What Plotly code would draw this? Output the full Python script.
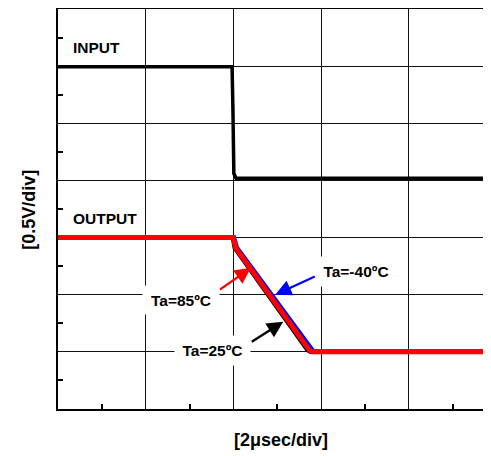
import plotly.graph_objects as go

# ---- data (divisions: x = 2 usec/div, y = 0.5 V/div) ----
input_t = [0.0, 1.985, 1.995, 2.005, 2.03, 4.94]
input_v = [5.99, 5.99, 5.2, 4.12, 4.04, 4.04]

out25_t = [0.0, 1.995, 2.015, 2.82, 2.845, 2.88, 4.94]
out25_v = [3.0, 3.0, 2.82, 1.07, 1.03, 1.0, 1.0]

outm40_t = [0.0, 2.005, 2.04, 2.875, 2.9, 2.935, 4.94]
outm40_v = [3.0, 3.0, 2.82, 1.07, 1.03, 1.0, 1.0]

out85_t = [0.0, 2.0, 2.025, 2.84, 2.865, 2.9, 4.94]
out85_v = [3.0, 3.0, 2.82, 1.07, 1.03, 1.0, 1.0]

FONT = "Liberation Sans, Arial, sans-serif"

fig = go.Figure()
fig.add_trace(go.Scatter(x=input_t, y=input_v, mode="lines",
                         line=dict(color="black", width=3.5), hoverinfo="skip"))
fig.add_trace(go.Scatter(x=out25_t, y=out25_v, mode="lines",
                         line=dict(color="black", width=4.5), hoverinfo="skip"))
fig.add_trace(go.Scatter(x=outm40_t, y=outm40_v, mode="lines",
                         line=dict(color="#0000ff", width=4.5), hoverinfo="skip"))
fig.add_trace(go.Scatter(x=out85_t, y=out85_v, mode="lines",
                         line=dict(color="#ff0000", width=5), hoverinfo="skip"))

tf = dict(family=FONT, size=15.5, color="black")
ann = []
# plain labels
ann.append(dict(x=0.437, y=6.33, xref="x", yref="y", text="<b>INPUT</b>",
                showarrow=False, font=tf))
ann.append(dict(x=0.54, y=3.34, xref="x", yref="y", text="<b>OUTPUT</b>",
                showarrow=False, font=tf))
# arrows
ann.append(dict(x=2.20, y=2.47, ax=1.828, ay=2.07, xref="x", yref="y",
                axref="x", ayref="y", text="", showarrow=True,
                arrowhead=2, arrowsize=1.4, arrowwidth=2.3, arrowcolor="#ff0000"))
ann.append(dict(x=2.568, y=1.527, ax=2.192, ay=1.159, xref="x", yref="y",
                axref="x", ayref="y", text="", showarrow=True,
                arrowhead=2, arrowsize=1.4, arrowwidth=2.3, arrowcolor="black"))
ann.append(dict(x=2.477, y=2.0, ax=2.945, ay=2.331, xref="x", yref="y",
                axref="x", ayref="y", text="", showarrow=True,
                arrowhead=2, arrowsize=1.4, arrowwidth=2.3, arrowcolor="#0000ff"))
# boxed labels
ann.append(dict(x=1.401, y=1.904, xref="x", yref="y", text="<b>Ta=85ºC</b>",
                showarrow=False, font=tf, bgcolor="white", width=74, height=26))
ann.append(dict(x=1.765, y=1.019, xref="x", yref="y", text="<b>Ta=25ºC</b>",
                showarrow=False, font=tf, bgcolor="white", width=73, height=27))
ann.append(dict(x=3.400, y=2.412, xref="x", yref="y", text="<b>Ta=-40ºC</b>",
                showarrow=False, font=tf, bgcolor="white", width=72, height=27))
# axis titles
ann.append(dict(x=0.5144, y=-0.077, xref="paper", yref="paper",
                xanchor="center", yanchor="middle",
                text="<b>[2μsec/div]</b>", showarrow=False,
                font=dict(family=FONT, size=18, color="black")))
ann.append(dict(x=-0.0669, y=0.498, xref="paper", yref="paper",
                xanchor="center", yanchor="middle",
                text="<b>[0.5V/div]</b>", showarrow=False, textangle=-90,
                font=dict(family=FONT, size=18, color="black")))

fig.update_layout(
    width=483, height=448,
    margin=dict(l=49.5, r=0, t=1.3, b=46.8, autoexpand=False),
    paper_bgcolor="white", plot_bgcolor="white",
    showlegend=False,
    annotations=ann,
    xaxis=dict(range=[0, 4.937], dtick=1, tick0=0, showgrid=True,
               gridcolor="#111", gridwidth=1.2, zeroline=False,
               showline=True, linecolor="black", linewidth=2, mirror=True,
               showticklabels=False, ticks="",
               minor=dict(dtick=0.5, tick0=0, ticks="inside", ticklen=5,
                          tickcolor="black", tickwidth=1.5, showgrid=False),
               fixedrange=True),
    yaxis=dict(range=[0, 7], dtick=1, tick0=0, showgrid=True,
               gridcolor="#111", gridwidth=1.2, zeroline=False,
               showline=True, linecolor="black", linewidth=2, mirror=False,
               showticklabels=False, ticks="",
               minor=dict(dtick=0.5, tick0=0, ticks="inside", ticklen=5,
                          tickcolor="black", tickwidth=1.5, showgrid=False),
               fixedrange=True),
)

fig.write_html("out.html")
